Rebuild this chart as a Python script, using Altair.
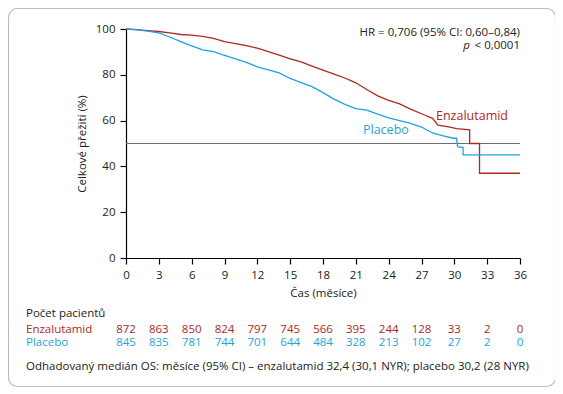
import altair as alt
import pandas as pd

# --- data ---------------------------------------------------------------
enz_t = [0, 1, 2, 3, 4, 5, 6, 7, 8, 9, 10, 11, 12, 13, 14, 15, 16, 17, 18, 19,
         20, 21, 22, 23, 24, 25, 26, 27, 27.5, 28.0, 28.5, 29.5, 30.2, 31.4,
         31.4, 32.3, 32.3, 36]
enz_s = [100, 99.7, 99.3, 98.9, 98.3, 97.6, 97.3, 96.8, 95.9, 94.5, 93.6, 92.7,
         91.6, 90.1, 88.6, 87.0, 85.6, 83.8, 82.0, 80.3, 78.6, 76.5, 73.6, 70.8,
         68.8, 67.3, 65.0, 63.0, 62.0, 61.0, 58.0, 57.3, 56.5, 56.0,
         50.0, 50.0, 37.0, 37.0]

pla_t = [0, 1, 2, 3, 4, 5, 6, 7, 8, 8.8, 10, 11, 12, 13, 14, 15, 16, 17, 18, 19,
         20, 21, 22, 23, 24, 25, 26, 27, 28, 29, 29.9, 30.2, 30.3, 30.8, 30.8, 36]
pla_s = [100, 99.6, 99.1, 98.3, 96.5, 94.5, 92.6, 90.9, 90.1, 88.8, 87.0, 85.4,
         83.5, 82.2, 80.8, 78.4, 76.6, 74.8, 72.2, 69.4, 67.1, 65.2, 64.6, 62.8,
         61.2, 60.0, 58.8, 57.2, 54.6, 53.3, 52.3, 52.3, 48.6, 48.2, 45.0, 45.0]

months = [0, 3, 6, 9, 12, 15, 18, 21, 24, 27, 30, 33, 36]
enz_risk = [872, 863, 850, 824, 797, 745, 566, 395, 244, 128, 33, 2, 0]
pla_risk = [845, 835, 781, 744, 701, 644, 484, 328, 213, 102, 27, 2, 0]
y_ticks = [0, 20, 40, 60, 80, 100]

RED = "#b3261e"
BLUE = "#1ea4e2"
DARK = "#222222"
FONT = "Open Sans"
FS = 11.5

W, H = 394, 229

curves = pd.concat([
    pd.DataFrame({"t": enz_t, "s": enz_s, "arm": "Enzalutamid", "o": range(len(enz_t))}),
    pd.DataFrame({"t": pla_t, "s": pla_s, "arm": "Placebo", "o": range(len(pla_t))}),
])
risk_e = pd.DataFrame({"t": months, "n": enz_risk})
risk_p = pd.DataFrame({"t": months, "n": pla_risk})

xscale = alt.Scale(domain=[0, 36], nice=False)
yscale = alt.Scale(domain=[0, 100], nice=False)
color = alt.Scale(domain=["Enzalutamid", "Placebo"], range=[RED, BLUE])

xaxis = alt.Axis(values=months, title="Čas (měsíce)", grid=False,
                 domainColor="#000", tickColor="#000", tickSize=6,
                 labelPadding=5, titlePadding=7, labelFlush=False,
                 labelOverlap=False)
yaxis = alt.Axis(values=y_ticks, title="Celkové přežití (%)", grid=False,
                 domainColor="#000", tickColor="#000", tickSize=6,
                 labelPadding=5, titlePadding=8, labelOverlap=False)

lines = alt.Chart(curves).mark_line(strokeWidth=1.3).encode(
    x=alt.X("t:Q", scale=xscale, axis=xaxis),
    y=alt.Y("s:Q", scale=yscale, axis=yaxis),
    color=alt.Color("arm:N", scale=color, legend=None),
    order="o:Q",
)

ref = alt.Chart(pd.DataFrame({"s": [50]})).mark_rule(
    color="#6e6e6e", strokeWidth=1).encode(
    y=alt.Y("s:Q", scale=yscale, axis=yaxis))

def txt(text, x, y, col=DARK, align="left", style="normal", size=FS):
    return alt.Chart(pd.DataFrame({"a": [0]})).mark_text(
        text=text, align=align, baseline="middle", color=col,
        font=FONT, fontSize=size, fontStyle=style
    ).encode(x=alt.value(x), y=alt.value(y))

hr = txt("HR = 0,706 (95% CI: 0,60–0,84)", W, 4, align="right")
p_rest = txt("< 0,0001", W, 17, align="right")
p_it = txt("p", W - 50, 17, align="right", style="italic")
lab_enz = txt("Enzalutamid", 310, 87, col=RED, size=12.5)
lab_pla = txt("Placebo", 237, 101, col=BLUE, size=12.5)

head = txt("Počet pacientů", -100, 285)
row_e = txt("Enzalutamid", -100, 301, col=RED)
row_p = txt("Placebo", -100, 314, col=BLUE)
foot = txt("Odhadovaný medián OS: měsíce (95% CI) – enzalutamid 32,4 (30,1 NYR); "
           "placebo 30,2 (28 NYR)", -100, 338)

def risk_row(df, ypix, col):
    return alt.Chart(df).mark_text(
        font=FONT, fontSize=FS, baseline="middle", align="center", color=col
    ).encode(x=alt.X("t:Q", scale=xscale, axis=xaxis), y=alt.value(ypix), text="n:Q")

rk_e = risk_row(risk_e, 301, RED)
rk_p = risk_row(risk_p, 314, BLUE)

border = alt.Chart(pd.DataFrame({"a": [0]})).mark_rect(
    fill=None, stroke="#bdbdbd", strokeWidth=1.2, cornerRadius=9
).encode(x=alt.value(-117.5), x2=alt.value(429.5),
         y=alt.value(-20.5), y2=alt.value(357.5))

chart = alt.layer(border, ref, lines, rk_e, rk_p, hr, p_rest, p_it,
                  lab_enz, lab_pla, head, row_e, row_p, foot).properties(
    width=W, height=H,
    autosize=alt.AutoSizeParams(type="none"),
    padding={"left": 118, "top": 21, "right": 35, "bottom": 130},
).configure_view(stroke=None).configure_axis(
    labelFont=FONT, titleFont=FONT, labelFontSize=FS, titleFontSize=FS,
    labelColor=DARK, titleColor=DARK, titleFontWeight="normal",
    domainWidth=1.2, tickWidth=1.2,
)

chart.save("out.html", embed_options={"renderer": "svg", "actions": False})
